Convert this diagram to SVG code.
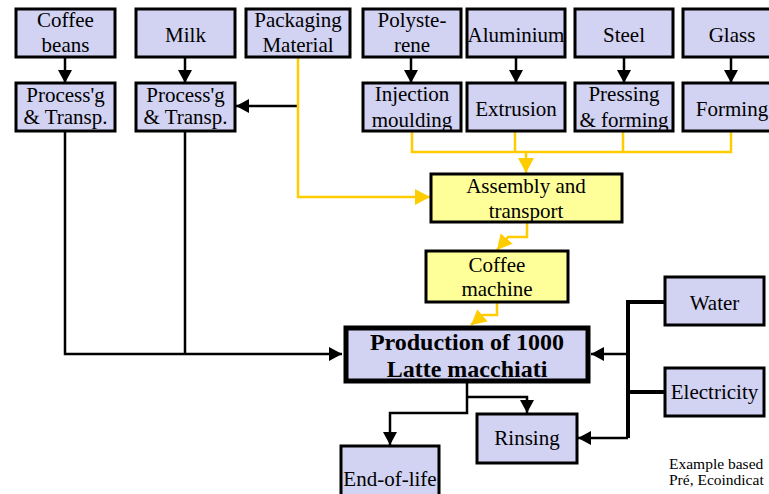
<svg xmlns="http://www.w3.org/2000/svg" width="769" height="494" viewBox="0 0 769 494">
<style>
.b{fill:#d2d2f2;stroke:#000;stroke-width:3}
.y{fill:#ffff99;stroke:#000;stroke-width:3}
.k{fill:none;stroke:#000;stroke-width:2.5}
.kk{fill:none;stroke:#000;stroke-width:4}
.g{fill:none;stroke:#ffcc00;stroke-width:2.5}
.n{font-family:'Liberation Serif',serif;font-size:21px;text-anchor:middle;fill:#000}
</style>
<defs>
<marker id="ak" markerUnits="userSpaceOnUse" markerWidth="14" markerHeight="14" refX="13" refY="7" orient="auto"><path d="M0,0 L13,7 L0,14 z" fill="#000"/></marker>
<marker id="ay" markerUnits="userSpaceOnUse" markerWidth="16" markerHeight="16" refX="15" refY="8" orient="auto"><path d="M0,0 L15,8 L0,16 z" fill="#ffcc00"/></marker>
</defs>
<g id="connectors">
<path class="k" d="M65,57 V83" marker-end="url(#ak)"/>
<path class="k" d="M185,57 V83" marker-end="url(#ak)"/>
<path class="k" d="M411,57 V83" marker-end="url(#ak)"/>
<path class="k" d="M516,57 V83" marker-end="url(#ak)"/>
<path class="k" d="M624,57 V83" marker-end="url(#ak)"/>
<path class="k" d="M731,57 V83" marker-end="url(#ak)"/>
<path class="k" d="M298,106 H236" marker-end="url(#ak)"/>
<path class="g" d="M298,57 V197 H430" marker-end="url(#ay)"/>
<path class="g" d="M412,131 V152 H731 V131 M515,131 V152 M623,131 V152"/>
<path class="g" d="M526,152 V173" marker-end="url(#ay)"/>
<path class="g" d="M527,222 V237 H508 L497,250" marker-end="url(#ay)"/>
<path class="g" d="M497,302 V315 H483 L471,325" marker-end="url(#ay)"/>
<path class="k" d="M65,131 V354 H342" marker-end="url(#ak)"/>
<path class="k" d="M185,131 V354"/>
<path class="kk" d="M665,302 H628 V438 M665,392 H628"/>
<path class="k" d="M628,354 H591" marker-end="url(#ak)"/>
<path class="k" d="M628,438 H578" marker-end="url(#ak)"/>
<path class="k" d="M467,383 V413 H390 V445" marker-end="url(#ak)"/>
<path class="k" d="M467,397 H527 V413" marker-end="url(#ak)"/>
</g>
<g id="coffee-beans"><rect class="b" x="16" y="9" width="99" height="48"/><text class="n" x="65.5" y="27">Coffee</text><text class="n" x="65.5" y="52">beans</text></g>
<g id="milk"><rect class="b" x="136" y="9" width="99" height="48"/><text class="n" x="185.5" y="42">Milk</text></g>
<g id="packaging"><rect class="b" x="246" y="9" width="104" height="48"/><text class="n" x="298" y="27">Packaging</text><text class="n" x="298" y="52">Material</text></g>
<g id="polystyrene"><rect class="b" x="363" y="9" width="98" height="48"/><text class="n" x="412" y="27">Polyste-</text><text class="n" x="412" y="52">rene</text></g>
<g id="aluminium"><rect class="b" x="467" y="9" width="98" height="48"/><text class="n" x="516" y="42">Aluminium</text></g>
<g id="steel"><rect class="b" x="575" y="9" width="98" height="48"/><text class="n" x="624" y="42">Steel</text></g>
<g id="glass"><rect class="b" x="683" y="9" width="98" height="48"/><text class="n" x="732" y="42">Glass</text></g>
<g id="process1"><rect class="b" x="16" y="83" width="99" height="48"/><text class="n" x="65.5" y="102">Process'g</text><text class="n" x="65.5" y="124">&amp; Transp.</text></g>
<g id="process2"><rect class="b" x="136" y="83" width="99" height="48"/><text class="n" x="185.5" y="102">Process'g</text><text class="n" x="185.5" y="124">&amp; Transp.</text></g>
<g id="injection"><rect class="b" x="363" y="83" width="98" height="48"/><text class="n" x="412" y="101">Injection</text><text class="n" x="412" y="127">moulding</text></g>
<g id="extrusion"><rect class="b" x="467" y="83" width="98" height="48"/><text class="n" x="516" y="116">Extrusion</text></g>
<g id="pressing"><rect class="b" x="575" y="83" width="98" height="48"/><text class="n" x="624" y="101">Pressing</text><text class="n" x="624" y="127">&amp; forming</text></g>
<g id="forming"><rect class="b" x="683" y="83" width="98" height="48"/><text class="n" x="732" y="116">Forming</text></g>
<g id="assembly"><rect class="y" x="431" y="174" width="191" height="48"/><text class="n" x="526" y="193">Assembly and</text><text class="n" x="526" y="218">transport</text></g>
<g id="coffee-machine"><rect class="y" x="426" y="251" width="142" height="51"/><text class="n" x="497" y="272">Coffee</text><text class="n" x="497" y="296">machine</text></g>
<g id="production"><rect class="b" x="346" y="328" width="242" height="53" style="stroke-width:5"/><text class="n" x="467" y="350" style="font-size:24px;font-weight:bold">Production of 1000</text><text class="n" x="467" y="377" style="font-size:24px;font-weight:bold">Latte macchiati</text></g>
<g id="water"><rect class="b" x="665" y="277" width="99" height="48"/><text class="n" x="714.5" y="310">Water</text></g>
<g id="electricity"><rect class="b" x="665" y="368" width="99" height="48"/><text class="n" x="714.5" y="399">Electricity</text></g>
<g id="rinsing"><rect class="b" x="477" y="414" width="100" height="49"/><text class="n" x="527" y="445">Rinsing</text></g>
<g id="end-of-life"><rect class="b" x="341" y="446" width="98" height="52"/><text class="n" x="390" y="486">End-of-life</text></g>
<g id="note"><text class="n" x="669" y="469" style="font-size:15.5px;text-anchor:start">Example based</text><text class="n" x="669" y="485" style="font-size:15.5px;text-anchor:start">Pré, Ecoindicat</text></g>
</svg>
